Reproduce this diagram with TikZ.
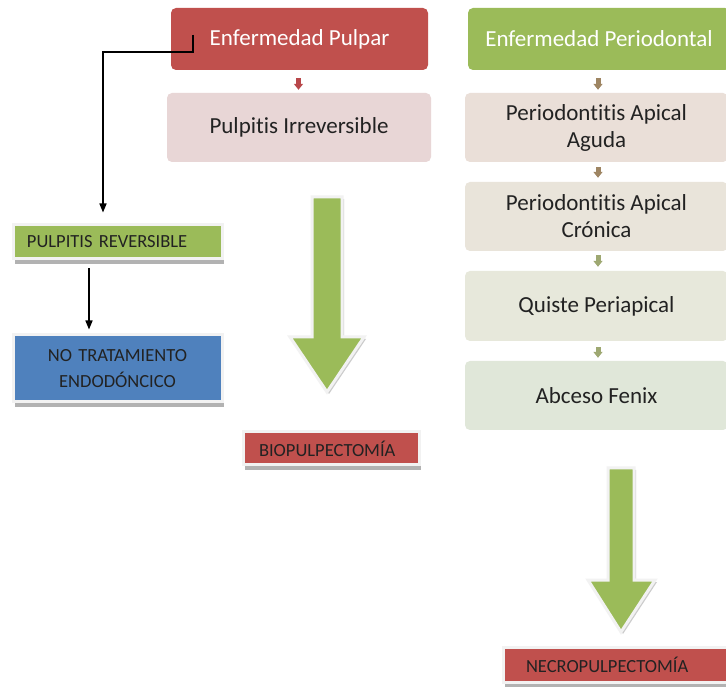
\documentclass[tikz,border=0pt]{standalone}
\usepackage{fontspec}
\setmainfont{Carlito}[Ligatures=NoCommon]
\usetikzlibrary{arrows.meta,shadows,calc}
\definecolor{cred}{HTML}{C0504D}
\definecolor{cgreen}{HTML}{9BBB59}
\definecolor{cblue}{HTML}{4F81BD}
\definecolor{cpink}{HTML}{E8D6D6}
\definecolor{cagu}{HTML}{EADFD8}
\definecolor{ccro}{HTML}{E9E4DA}
\definecolor{cqui}{HTML}{E7E8DB}
\definecolor{cabc}{HTML}{E0E7D9}
\definecolor{ctext}{HTML}{222222}
\definecolor{csmallred}{HTML}{B8474A}
\definecolor{csmalltan}{HTML}{9E8563}
\definecolor{csmallgr}{HTML}{9EA872}
\definecolor{cframe}{HTML}{F2F2F2}
\tikzset{
  bigbox/.style={rectangle, rounded corners=5pt, inner sep=0pt, align=center,
    font=\fontsize{23}{27}\selectfont, text=ctext},
  head/.style={bigbox, text=white},
  smallbox/.style={rectangle, inner sep=0pt, align=left, text=ctext,
    font=\fontsize{18.5}{26}\selectfont, draw=cframe, line width=3pt,
    drop shadow={shadow xshift=2pt, shadow yshift=-5pt, fill=black!30, opacity=1}},
  tiny/.style={-{Triangle[width=9pt,length=6pt]}, line width=5pt},
  conn/.style={-{Triangle[width=7pt,length=9pt]}, line width=1.5pt, black},
  bigarrow/.style={fill=cgreen, draw=cframe, line width=3pt, line join=miter,
    drop shadow={shadow xshift=2pt, shadow yshift=-2pt, fill=black!20, opacity=1}}
}
\begin{document}
\begin{tikzpicture}[x=1pt,y=-1pt]
\useasboundingbox[fill=white] (0,0) rectangle (726,700);

% top row
\node[head, fill=cred, minimum width=257pt, minimum height=62pt] (pulpar) at (299.5,39) {Enfermedad Pulpar};
\node[head, fill=cgreen, minimum width=262pt, minimum height=62pt] (perio) at (599,39) {Enfermedad Periodontal};

\node[bigbox, fill=cpink, minimum width=264pt, minimum height=69pt] (pirr) at (299,127.5) {Pulpitis Irreversible};

\node[bigbox, fill=cagu, minimum width=263pt, minimum height=69pt] (aguda) at (596.5,127.5) {Periodontitis Apical\\Aguda};
\node[bigbox, fill=ccro, minimum width=263pt, minimum height=69pt] (cron) at (596.5,216.5) {Periodontitis Apical\\Crónica};
\node[bigbox, fill=cqui, minimum width=263pt, minimum height=70pt] (quiste) at (596.5,306) {Quiste Periapical};
\node[bigbox, fill=cabc, minimum width=263pt, minimum height=69pt] (abceso) at (596.5,395.5) {Abceso Fenix};

% small connectors
\draw[tiny, csmallred, shorten <=8pt, shorten >=3pt] (pulpar.south -| 298.5,0) -- (pirr.north -| 298.5,0);
\draw[tiny, csmalltan, shorten <=8pt, shorten >=3pt] (perio.south -| 598,0) -- (aguda.north -| 598,0);
\draw[tiny, csmalltan, shorten <=5pt, shorten >=4pt] (aguda.south -| 598,0) -- (cron.north -| 598,0);
\draw[tiny, csmallgr, shorten <=4pt, shorten >=4pt] (cron.south -| 598,0) -- (quiste.north -| 598,0);
\draw[tiny, csmallgr, shorten <=6pt, shorten >=3pt] (quiste.south -| 598,0) -- (abceso.north -| 598,0);

% left column
\node[smallbox, fill=cgreen, minimum width=209pt, minimum height=34pt, inner xsep=14pt, text width=181pt] (prev) at (117.5,242) {PULPITIS REVERSIBLE};
\node[smallbox, fill=cblue, minimum width=209pt, minimum height=67pt, align=center, text width=209pt] (notrat) at (117.5,368.5) {NO TRATAMIENTO\\ENDODÓNCICO};
\node[smallbox, fill=cred, minimum width=176pt, minimum height=33pt, inner xsep=16pt, text width=144pt] (bio) at (331,448.5) {BIOPULPECTOMÍA};
\node[smallbox, fill=cred, minimum width=225pt, minimum height=35pt, inner xsep=23pt, text width=179pt] (necro) at (615.5,664.5) {NECROPULPECTOMÍA};

% elbow connector
\coordinate (c1) at (193,35);
\coordinate (c2) at (103,52);
\coordinate (c3) at (89,0);
\draw[conn, shorten >=11pt] (c1) |- (c2) -- (c2 |- prev.north);
\draw[conn, shorten <=8pt, shorten >=4pt] (c3 |- prev.south) -- (c3 |- notrat.north);

% big arrows
\path[bigarrow] (312,197) -- (342,197) -- (342,337) -- (364,337) -- (327,392) -- (290,337) -- (312,337) -- cycle;
\path[bigarrow] (608,468) -- (634,468) -- (634,580) -- (655,580) -- (621,632) -- (588,580) -- (608,580) -- cycle;
\end{tikzpicture}
\end{document}
